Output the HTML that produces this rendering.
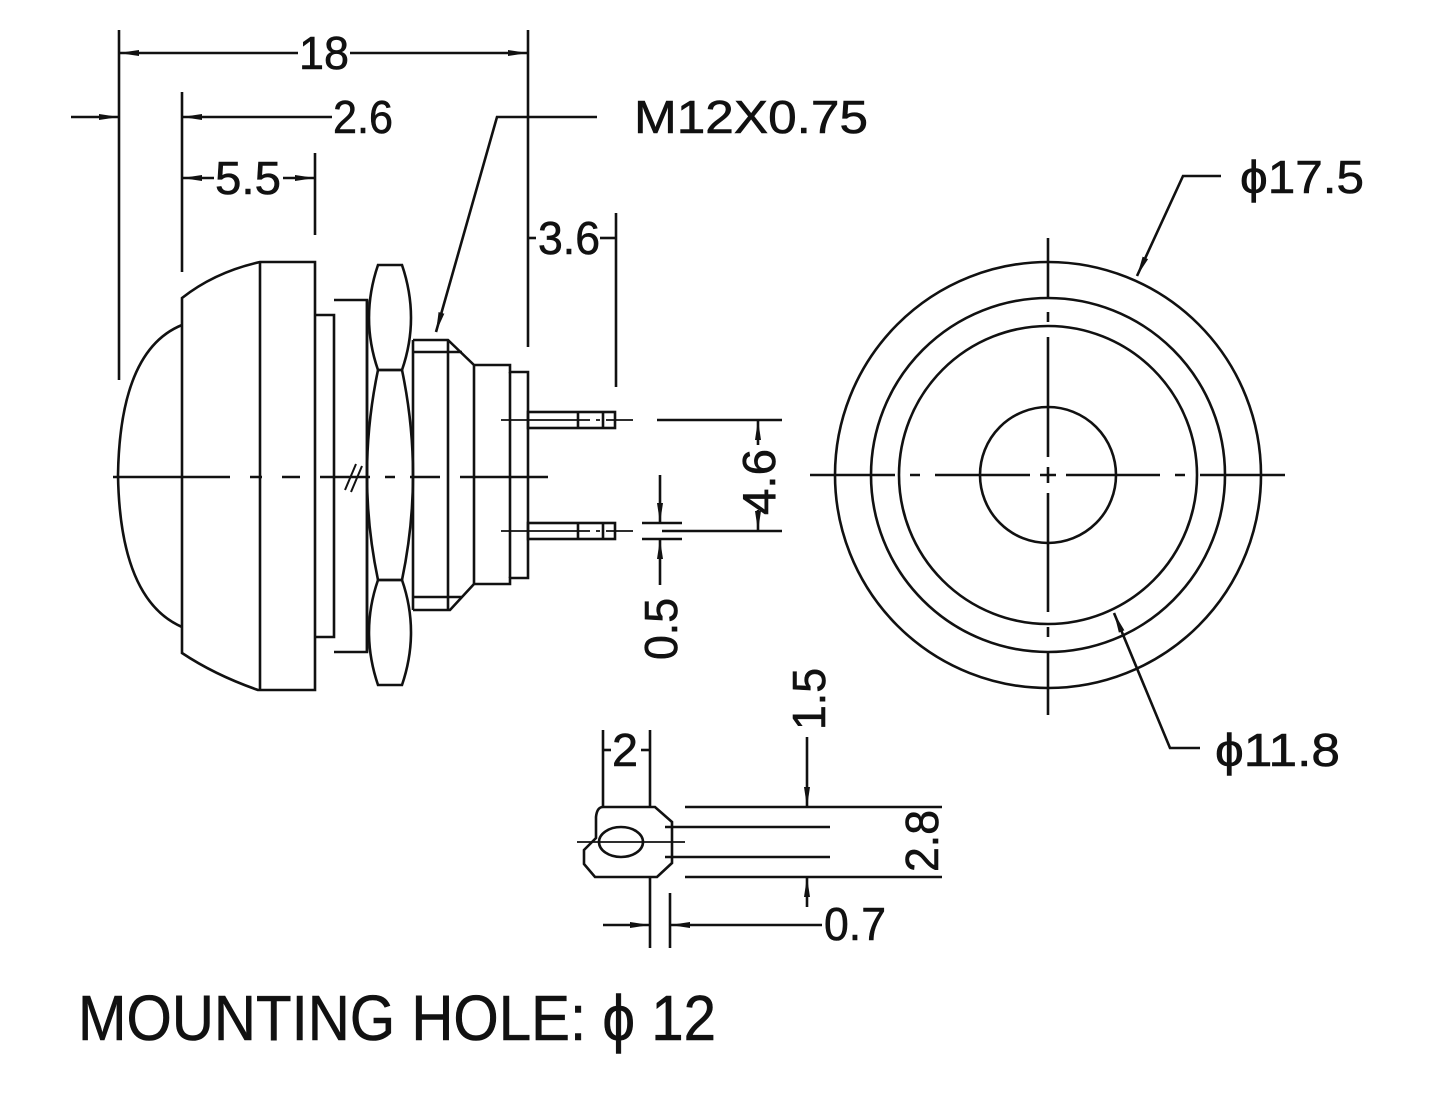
<!DOCTYPE html>
<html><head><meta charset="utf-8"><style>
html,body{margin:0;padding:0;background:#fff;}
svg{display:block;}
text{font-family:"Liberation Sans",sans-serif;fill:#111;stroke:#111;stroke-width:0.6;}
</style></head><body>
<svg width="1440" height="1102" viewBox="0 0 1440 1102" xmlns="http://www.w3.org/2000/svg">
<defs>
<marker id="a" viewBox="0 0 20 8" refX="20" refY="4" markerWidth="20" markerHeight="8" markerUnits="userSpaceOnUse" orient="auto-start-reverse"><path d="M0,1 L20,4 L0,7 Z" fill="#111"/></marker>
</defs>
<g stroke="#111" stroke-width="2.6" fill="none" stroke-linecap="butt">
<line x1="119" y1="30" x2="119" y2="380"/>
<line x1="528" y1="30" x2="528" y2="347"/>
<line x1="119" y1="53" x2="298" y2="53" marker-start="url(#a)"/>
<line x1="350" y1="53" x2="528" y2="53" marker-end="url(#a)"/>
<line x1="71" y1="117" x2="119" y2="117" marker-end="url(#a)"/>
<line x1="182" y1="92" x2="182" y2="272"/>
<line x1="182" y1="117" x2="332" y2="117" marker-start="url(#a)"/>
<line x1="315" y1="153" x2="315" y2="235"/>
<line x1="182" y1="178" x2="214" y2="178" marker-start="url(#a)"/>
<line x1="283" y1="178" x2="315" y2="178" marker-end="url(#a)"/>
<polyline points="597,117 497,117 436,332" marker-end="url(#a)"/>
<line x1="616" y1="213" x2="616" y2="387"/>
<line x1="528" y1="238" x2="536" y2="238"/>
<line x1="600" y1="238" x2="616" y2="238"/>
<path d="M182,298 Q215,272 260,262 L315,262 L315,690 L258,690 Q215,675 182,653 Z"/>
<line x1="260" y1="262" x2="260" y2="690"/>
<path d="M182,325 Q120,350 118,475 Q120,600 182,627"/>
<path d="M315,315 L334,315 L334,637 L315,637"/>
<path d="M334,300 L367,300 L367,652 L334,652"/>
<path d="M378,265 L402,265 Q420,318 402,370 L378,370 Q360,318 378,265 Z"/>
<path d="M378,370 L402,370 Q424,475 402,580 L378,580 Q356,475 378,370 Z"/>
<path d="M378,580 L402,580 Q420,632 402,685 L378,685 Q360,632 378,580 Z"/>
<line x1="367" y1="300" x2="367" y2="652"/>
<line x1="413" y1="340" x2="413" y2="610"/>
<path d="M413,340 L448,340 L474,365 L510,365 L510,372 L528,372 L528,578 L510,578 L510,584 L474,584 L450,610 L413,610"/>
<line x1="448" y1="340" x2="448" y2="610"/>
<line x1="474" y1="365" x2="474" y2="584"/>
<line x1="413" y1="352" x2="462" y2="352"/>
<line x1="413" y1="597" x2="462" y2="597"/>
<line x1="510" y1="372" x2="510" y2="578"/>
<rect x="528" y="412" width="87" height="16"/>
<rect x="528" y="523" width="87" height="16"/>
<line x1="578" y1="412" x2="578" y2="428"/>
<line x1="603" y1="412" x2="603" y2="428"/>
<line x1="578" y1="523" x2="578" y2="539"/>
<line x1="603" y1="523" x2="603" y2="539"/>
<path d="M113,477 H230 M250,477 H262 M282,477 H300 M320,477 H370 M385,477 H395 M410,477 H440 M460,477 H548" stroke-width="2.4"/>
<path d="M501,420 H590 M596,420 H600 M606,420 H633 M501,531 H590 M596,531 H600 M606,531 H633" stroke-width="1.8"/>
<path d="M345,490 L356,464 M351,492 L362,466" stroke-width="2"/>
<line x1="657" y1="420" x2="782" y2="420"/>
<line x1="662" y1="531" x2="782" y2="531"/>
<line x1="758" y1="420" x2="758" y2="445" marker-start="url(#a)"/>
<line x1="758" y1="510" x2="758" y2="531" marker-end="url(#a)"/>
<line x1="642" y1="523" x2="682" y2="523"/>
<line x1="642" y1="539" x2="682" y2="539"/>
<line x1="660" y1="475" x2="660" y2="523" marker-end="url(#a)"/>
<line x1="660" y1="585" x2="660" y2="539" marker-end="url(#a)"/>
<circle cx="1048" cy="475" r="213"/>
<circle cx="1048" cy="475" r="177"/>
<circle cx="1048" cy="475" r="149"/>
<circle cx="1048" cy="475" r="68"/>
<path d="M810,475 H895 M910,475 H920 M935,475 H1030 M1040,475 H1056 M1066,475 H1160 M1175,475 H1185 M1200,475 H1285"/>
<path d="M1048,238 V298 M1048,312 V322 M1048,337 V457 M1048,467 V483 M1048,493 V612 M1048,627 V637 M1048,652 V715"/>
<polyline points="1221,176 1183,176 1137,276" marker-end="url(#a)"/>
<polyline points="1200,748 1170,748 1114,613" marker-end="url(#a)"/>
<line x1="603" y1="730" x2="603" y2="807"/>
<line x1="650" y1="730" x2="650" y2="807"/>
<line x1="603" y1="750" x2="611" y2="750"/>
<line x1="641" y1="750" x2="650" y2="750"/>
<path d="M603,807 L655,807 L672,822 L672,863 L657,877 L595,877 L584,864 L584,850 L596,838 L596,817 Q597,807 603,807 Z"/>
<ellipse cx="621" cy="842" rx="22" ry="15"/>
<line x1="577" y1="842" x2="685" y2="842" stroke-width="1.8"/>
<line x1="685" y1="807" x2="942" y2="807"/>
<line x1="665" y1="827" x2="830" y2="827"/>
<line x1="665" y1="857" x2="830" y2="857"/>
<line x1="685" y1="877" x2="942" y2="877"/>
<line x1="807" y1="737" x2="807" y2="807" marker-end="url(#a)"/>
<line x1="807" y1="907" x2="807" y2="877" marker-end="url(#a)"/>
<line x1="650" y1="877" x2="650" y2="948"/>
<line x1="670" y1="893" x2="670" y2="948"/>
<line x1="603" y1="925" x2="650" y2="925" marker-end="url(#a)"/>
<line x1="670" y1="925" x2="822" y2="925" marker-start="url(#a)"/>
</g>
<g font-size="46">
<text x="299" y="69" textLength="50" lengthAdjust="spacingAndGlyphs">18</text>
<text x="333" y="133" textLength="60" lengthAdjust="spacingAndGlyphs">2.6</text>
<text x="215" y="194" textLength="66" lengthAdjust="spacingAndGlyphs">5.5</text>
<text x="538" y="254" textLength="62" lengthAdjust="spacingAndGlyphs">3.6</text>
<text x="634" y="133" textLength="234" lengthAdjust="spacingAndGlyphs">M12X0.75</text>
<text x="1240" y="193" textLength="124" lengthAdjust="spacingAndGlyphs">ϕ17.5</text>
<text x="1215" y="766" textLength="125" lengthAdjust="spacingAndGlyphs">ϕ11.8</text>
<text x="612" y="766" textLength="26" lengthAdjust="spacingAndGlyphs">2</text>
<text x="824" y="940" textLength="62" lengthAdjust="spacingAndGlyphs">0.7</text>
<text transform="translate(775,515) rotate(-90)" textLength="66" lengthAdjust="spacingAndGlyphs">4.6</text>
<text transform="translate(677,660) rotate(-90)" textLength="62" lengthAdjust="spacingAndGlyphs">0.5</text>
<text transform="translate(825,730) rotate(-90)" textLength="62" lengthAdjust="spacingAndGlyphs">1.5</text>
<text transform="translate(938,872) rotate(-90)" textLength="62" lengthAdjust="spacingAndGlyphs">2.8</text>
</g>
<text x="78" y="1040" font-size="64" textLength="638" lengthAdjust="spacingAndGlyphs">MOUNTING HOLE:  ϕ 12</text>
</svg>
</body></html>
